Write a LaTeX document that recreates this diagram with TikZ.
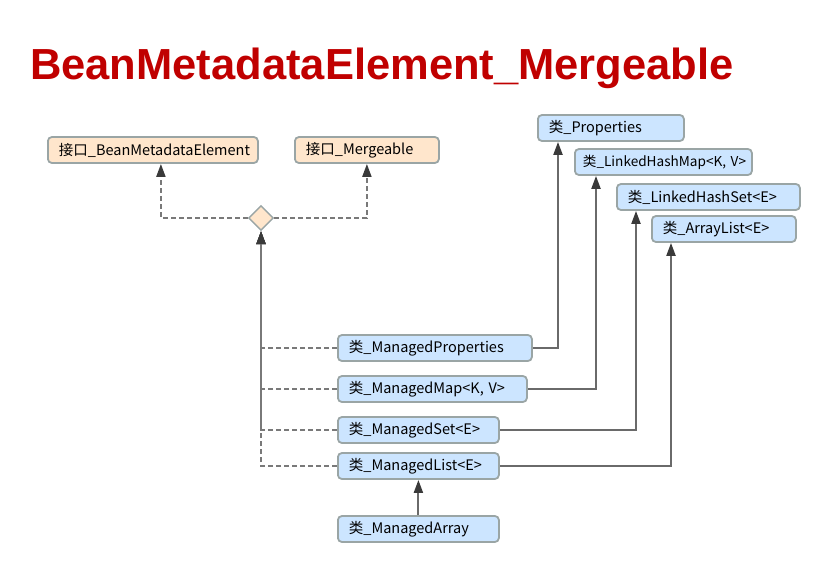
\documentclass[tikz,border=0pt]{standalone}
\usepackage{fontspec}
\setmainfont{Liberation Sans}
\newfontfamily\cjk{Noto Sans CJK SC}
\usetikzlibrary{arrows.meta,shapes.geometric}
\definecolor{titlered}{HTML}{C00000}
\definecolor{peach}{HTML}{FFE6CC}
\definecolor{lblue}{HTML}{CCE5FF}
\definecolor{bordergray}{HTML}{9AA5A5}
\definecolor{linegray}{HTML}{6A6A6A}
\definecolor{tipgray}{HTML}{3A3A3A}
\tikzset{
  box/.style={draw=bordergray, line width=1.8pt, rounded corners=4pt, anchor=west,
    minimum height=26pt, inner xsep=11pt, inner ysep=0pt, align=left,
    font=\cjk\fontsize{14.5}{16}\selectfont, text=black},
  ibox/.style={box, fill=peach},
  cbox/.style={box, fill=lblue},
  tip/.style={-{Triangle[width=9pt,length=13pt,color=tipgray,fill=tipgray]}},
  realize/.style={tip, dash pattern=on 5pt off 3pt, draw=linegray!90, line width=2pt},
  inherit/.style={tip, draw=linegray, line width=2pt},
  joint/.style={diamond, draw=bordergray, fill=peach, line width=1.4pt, minimum size=25pt, inner sep=0pt}
}
\begin{document}
\begin{tikzpicture}[x=1pt,y=-1pt]
\useasboundingbox (0,0) rectangle (834,576);
\node[anchor=west, text=titlered, font=\bfseries\fontsize{43.5}{48}\selectfont, inner sep=0pt] (title) at (30,68) {BeanMetadataElement\_Mergeable};

\node[ibox, text width=188pt] (bme) at (47,150) {接口\_BeanMetadataElement};
\node[ibox, text width=122pt] (merg) at (294,150) {接口\_Mergeable};
\node[joint] (dia) at (261,218) {};

\node[cbox, text width=124pt] (props) at (537,128) {类\_Properties};
\node[cbox, text width=161pt, inner xsep=8pt, font=\cjk\fontsize{13.6}{16}\selectfont] (lhm) at (574,162) {\mbox{类\_LinkedHashMap<K, V>}};
\node[cbox, text width=161pt] (lhs) at (616,197) {类\_LinkedHashSet<E>};
\node[cbox, text width=122pt] (al) at (651,229) {类\_ArrayList<E>};

\node[cbox, text width=172pt] (mprop) at (337,348) {类\_ManagedProperties};
\node[cbox, text width=167pt] (mmap) at (337,389) {类\_ManagedMap<K, V>};
\node[cbox, text width=139pt] (mset) at (337,430) {类\_ManagedSet<E>};
\node[cbox, text width=139pt] (mlist) at (337,466) {类\_ManagedList<E>};
\node[cbox, text width=139pt] (marr) at (337,529) {类\_ManagedArray};

\draw[realize] (dia.west) -| ([xshift=8pt]bme.south);
\draw[realize] (dia.east) -| (merg.south);

\draw[realize] (mprop.west) -| (dia.south);
\draw[realize] (mmap.west) -| (dia.south);
\draw[realize] (mset.west) -| (dia.south);
\draw[realize] (mlist.west) -| (dia.south);

\draw[inherit] (mprop.east) -| ([xshift=21pt]props.south west);
\draw[inherit] (mmap.east) -| ([xshift=22pt]lhm.south west);
\draw[inherit] (mset.east) -| ([xshift=20pt]lhs.south west);
\draw[inherit] (mlist.east) -| ([xshift=20pt]al.south west);
\draw[inherit] (marr.north) -- (mlist.south);
\end{tikzpicture}
\end{document}
